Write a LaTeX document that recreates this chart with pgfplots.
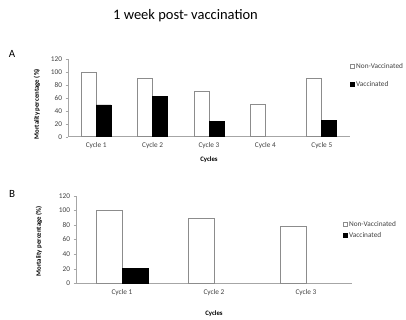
\documentclass[border=0pt]{standalone}
\usepackage{pgfplots}
\pgfplotsset{compat=1.18}
\usepackage{fontspec}
\setmainfont{Carlito}
\definecolor{axgray}{HTML}{A6A6A6}
\definecolor{bargray}{HTML}{8C8C8C}
\pgfplotsset{
  excel/.style={
    scale only axis,
    anchor=south west,
    axis x line=bottom, axis y line=left,
    axis line style={-, axgray},
    ymin=0, ymax=120, ytick={0,20,...,120},
    xtick={0,1,2,3,4},
    major tick length=2.5pt,
    y tick style={axgray},
    x tick style={draw=none},
    tick align=outside,
    ticklabel style={font=\fontsize{7.3}{8}\selectfont, text=black!75},
    /pgf/number format/assume math mode=true,
    ybar=0pt,
    unbounded coords=jump,
    xlabel={Cycles},
    ylabel={Mortality percentage (\%)},
    xlabel style={font=\bfseries\fontsize{6.8}{7}\selectfont},
    ylabel style={font=\bfseries\fontsize{6.8}{7}\selectfont, anchor=center},
    legend style={draw=none, fill=none, font=\fontsize{7.3}{8}\selectfont, text=black!75,
      inner sep=0pt, cells={anchor=west}},
    legend image code/.code={\draw[#1, line width=0.4pt] (0pt,-1.8pt) rectangle (3.6pt,1.8pt);},
    clip=false,
  },
  nonv/.style={fill=white, draw=bargray, line width=0.7pt},
  vacc/.style={fill=black, draw=black, line width=0.7pt},
}
\pgfplotstableread{
x nonv vacc
0 100 49
1 90 62
2 70 23
3 50 nan
4 90 25
}\tableA
\pgfplotstableread{
x nonv vacc
0 100 20
1 89 nan
2 78 nan
}\tableB
\begin{document}
\begin{tikzpicture}[x=1pt,y=1pt]
\path[use as bounding box] (0,0) rectangle (406,320);
\node[font=\fontsize{14.5}{16}\selectfont] at (185.5,304) {1 week post- vaccination};
\node[font=\fontsize{11}{13}\selectfont] at (12,266) {A};
\node[font=\fontsize{11}{13}\selectfont] at (12,126) {B};
\begin{axis}[excel, at={(68pt,183.3pt)}, width=282pt, height=77.7pt,
  xmin=-0.5, xmax=4.5, bar width=15pt,
  xticklabels={Cycle 1,Cycle 2,Cycle 3,Cycle 4,Cycle 5},
  xlabel style={at={(axis description cs:0.5,0)}, yshift=-17pt, anchor=north},
  ylabel style={at={(axis description cs:-0.11,0.42)}},
  legend style={at={(1,0.975)}, anchor=north west, row sep=7.5pt},
]
\addplot[nonv] table[x=x,y=nonv] {\tableA};
\addplot[vacc] table[x=x,y=vacc] {\tableA};
\legend{Non-Vaccinated,Vaccinated}
\end{axis}
\begin{axis}[excel, at={(76pt,36.7pt)}, width=276pt, height=87.6pt,
  xmin=-0.5, xmax=2.5, bar width=26pt,
  xticklabels={Cycle 1,Cycle 2,Cycle 3},
  xlabel style={at={(axis description cs:0.5,0)}, yshift=-24pt, anchor=north},
  ylabel style={at={(axis description cs:-0.134,0.48)}},
  legend style={at={(0.967,0.735)}, anchor=north west, row sep=0.5pt},
]
\addplot[nonv] table[x=x,y=nonv] {\tableB};
\addplot[vacc] table[x=x,y=vacc] {\tableB};
\legend{Non-Vaccinated,Vaccinated}
\end{axis}
\end{tikzpicture}
\end{document}
